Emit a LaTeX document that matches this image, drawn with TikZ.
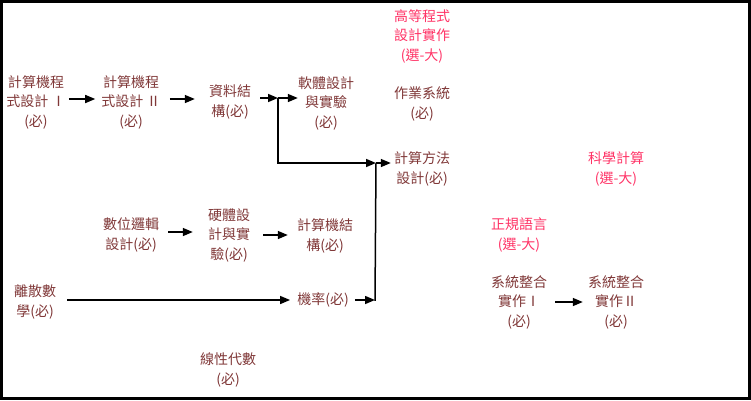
\documentclass[tikz,border=0pt]{standalone}
\usepackage{fontspec}
\setmainfont{Noto Sans CJK TC}
\usetikzlibrary{arrows.meta}
\definecolor{req}{RGB}{128,56,56}
\definecolor{ele}{RGB}{255,51,102}
\begin{document}
\begin{tikzpicture}[x=1pt,y=-1pt,
  course/.style={align=center, inner sep=0pt, text=req, font=\fontsize{14}{19.5}\selectfont},
  elective/.style={course, text=ele},
  arr/.style={-{Triangle[length=10pt,width=8pt]}, line width=1.5pt},
  link/.style={line width=1.5pt}]
\useasboundingbox (0,0) rectangle (751,400);
\draw[line width=2.5pt] (1.25,1.25) rectangle (749.5,398.5);

\node[course] (n1) at (36,102) {計算機程\\式設計 Ⅰ\\(必)};
\node[course] (n2) at (131,102) {計算機程\\式設計 Ⅱ\\(必)};
\node[course] (n3) at (230,102) {資料結\\構(必)};
\node[course] (n4) at (326,103) {軟體設計\\與實驗\\(必)};
\node[elective] (adv) at (422,36) {高等程式\\設計實作\\(選-大)};
\node[course] (os) at (422,104) {作業系統\\(必)};
\node[course] (algo) at (422,169) {計算方法\\設計(必)};
\node[elective] (sci) at (616,169) {科學計算\\(選-大)};
\node[course] (dl) at (131,235) {數位邏輯\\設計(必)};
\node[course] (hw) at (229,235) {硬體設\\計與實\\驗(必)};
\node[course] (ca) at (325,236) {計算機結\\構(必)};
\node[course] (dm) at (35,302) {離散數\\學(必)};
\node[course] (prob) at (323,300) {機率(必)};
\node[course] (la) at (228,370) {線性代數\\(必)};
\node[elective] (fl) at (519,235) {正規語言\\(選-大)};
\node[course] (si1) at (519,302) {系統整合\\實作Ⅰ\\(必)};
\node[course] (si2) at (616,302) {系統整合\\實作Ⅱ\\(必)};

\coordinate (j1) at (278,98);
\coordinate (j2) at (376,163);
\coordinate (j3) at (375,300);

\draw[arr, shorten <=3pt, shorten >=6pt] ([yshift=3pt]n1.east) -- ([yshift=3pt]n2.west);
\draw[arr, shorten <=9pt, shorten >=14pt] ([yshift=3pt]n2.east) -- ([yshift=3pt]n3.west);
\draw[arr, shorten <=9pt] ([yshift=4pt]n3.east) -- (j1);
\draw[arr] (j1) -- (j1 -| n4.west);
\draw[arr] (j1) |- (j2);
\draw[arr, shorten <=6pt] (prob.east) -- (j3);
\draw[link] ([yshift=-0.75pt]j3) -- (j2);
\draw[arr, shorten >=3pt] (j2) -- (j2 -| algo.west);
\draw[arr, shorten <=9pt, shorten >=15pt] ([yshift=3pt]dl.east) -- ([yshift=3pt]dl.east -| hw.west);
\draw[arr, shorten <=13pt, shorten >=9pt] (hw.east) -- (hw.east -| ca.west);
\draw[arr, shorten <=11pt, shorten >=7pt] (dm.east |- prob) -- (prob.west);
\draw[arr, shorten <=8pt, shorten >=5pt] (si1.east) -- (si2.west);
\end{tikzpicture}
\end{document}
